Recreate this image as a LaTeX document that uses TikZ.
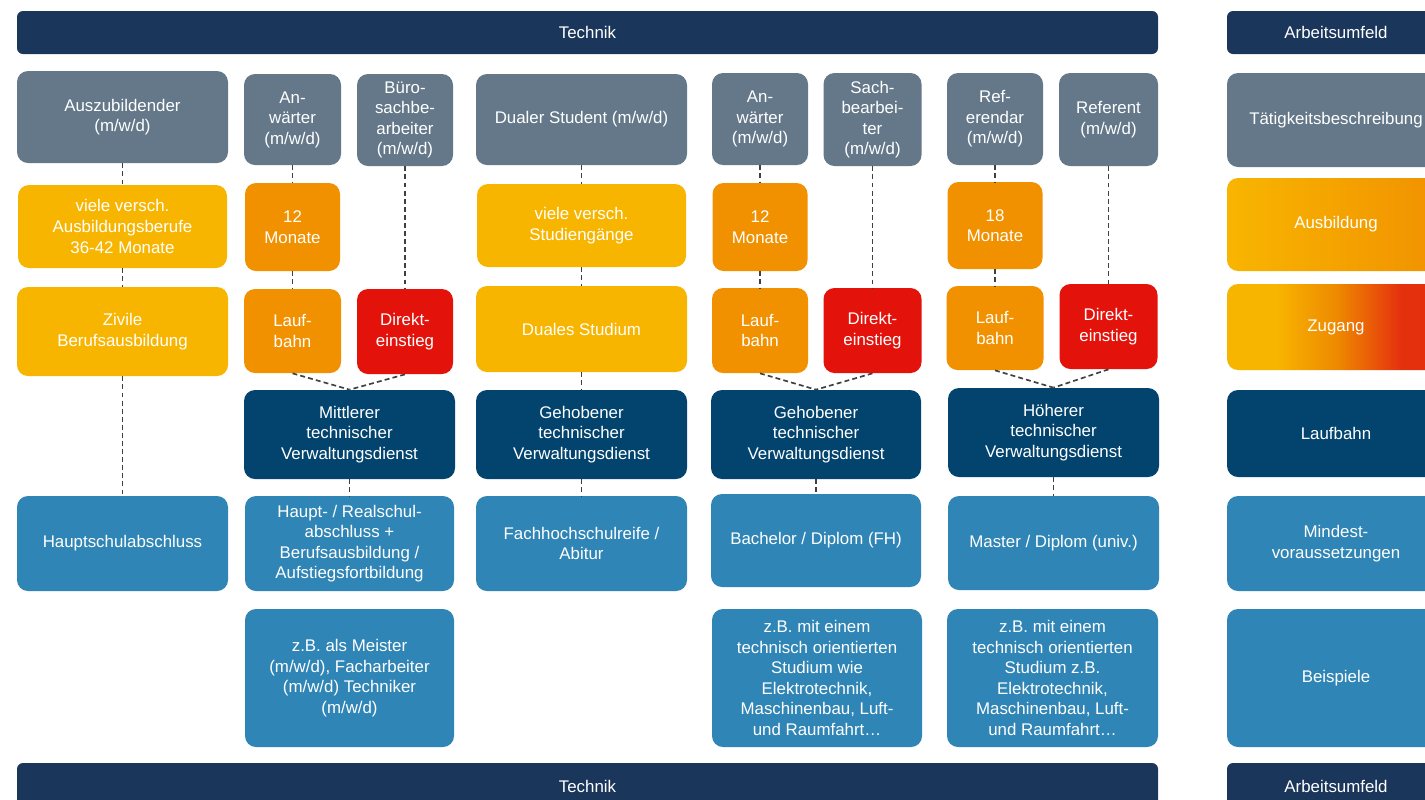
\documentclass[tikz,border=0pt]{standalone}
\usepackage{fontspec}
\setmainfont{Liberation Sans}
\usetikzlibrary{calc}

\definecolor{balken}{HTML}{1B365B}
\definecolor{grau}{HTML}{64788A}
\definecolor{gelb}{HTML}{F8B500}
\definecolor{orange}{HTML}{F19100}
\definecolor{rot}{HTML}{E3120B}
\definecolor{dunkelblau}{HTML}{03446F}
\definecolor{mittelblau}{HTML}{2F85B5}
\definecolor{zugrot}{HTML}{E5300E}
\definecolor{zugorange}{HTML}{EE8A00}

\pgfdeclarehorizontalshading{zugangshade}{100bp}{color(0bp)=(gelb); color(25bp)=(gelb); color(36bp)=(gelb); color(50bp)=(zugorange); color(57bp)=(zugorange!55!zugrot); color(65bp)=(zugrot); color(100bp)=(zugrot)}

\begin{document}
\begin{tikzpicture}[x=0.02cm, y=-0.02cm]
                    \tikzstyle{feld} = [inner sep=0pt, text=white, align=center, rounded corners=0.22cm, font=\fontsize{9.6}{11.7}\selectfont]
                    \tikzstyle{wh} = [minimum width=#1*0.02cm]
                    \tikzstyle{ht} = [minimum height=#1*0.02cm]
                    \tikzstyle{kopf} = [feld, fill=balken, rounded corners=0.12cm]
                    \tikzstyle{person} = [feld, fill=grau]
                    \tikzstyle{ausbildung} = [feld, fill=gelb]
                    \tikzstyle{vorber} = [feld, fill=orange]
                    \tikzstyle{direkt} = [feld, fill=rot]
                    \tikzstyle{dienst} = [feld, fill=dunkelblau]
                    \tikzstyle{vorauss} = [feld, fill=mittelblau]
                    \tikzstyle{verb} = [dash pattern=on 2.8pt off 1.8pt, line width=0.95pt, draw=black!75]

                    \path[use as bounding box, clip] (0, 0) rectangle (1425, 799);
                    \fill[white] (0, 0) rectangle (1425, 799);

                    % Kopf- und Fussbalken
                    \node[kopf, wh=1141, ht=43] (techoben) at (587.5, 32.5) {Technik};
                    \node[kopf, wh=218, ht=43] (arboben) at (1336, 32.5) {Arbeitsumfeld};
                    \node[kopf, wh=1141, ht=46] (techunten) at (587.5, 786) {Technik};
                    \node[kopf, wh=218, ht=46] (arbunten) at (1336, 786) {Arbeitsumfeld};

                    % Ausbildung
                    \node[person, wh=211, ht=92] (azubi) at (122.5, 117) {Auszubildender\\(m/w/d)};
                    \node[ausbildung, wh=209, ht=83] (berufe) at (122.5, 226.5) {viele versch.\\Ausbildungsberufe\\36-42 Monate};
                    \node[ausbildung, wh=211, ht=89] (zivil) at (122.5, 331.5) {Zivile\\Berufsausbildung};
                    \node[vorauss, wh=211, ht=95] (hauptschul) at (122.5, 543.5) {Hauptschulabschluss};
                    \draw[verb] (azubi) -- (berufe);
                    \draw[verb] (berufe) -- (zivil);
                    \draw[verb] (zivil) -- (hauptschul);

                    % Mittlerer Dienst
                    \node[person, wh=97, ht=91] (anwmittl) at (292.5, 119.5) {An-\\wärter\\(m/w/d)};
                    \node[person, wh=96, ht=92] (buero) at (405, 120) {Büro-\\sachbe-\\arbeiter\\(m/w/d)};
                    \node[vorber, wh=95, ht=88] (monmittl) at (292.5, 227) {12\\Monate};
                    \node[vorber, wh=97, ht=84] (laufmittl) at (292.5, 331) {Lauf-\\bahn};
                    \node[direkt, wh=96, ht=85] (direktmittl) at (405, 331.5) {Direkt-\\einstieg};
                    \node[dienst, wh=211, ht=89] (mittl) at (349.5, 434.5) {Mittlerer\\technischer\\Verwaltungsdienst};
                    \node[vorauss, wh=209, ht=95] (realschul) at (349.5, 543.5) {Haupt- / Realschul-\\abschluss +\\Berufsausbildung /\\Aufstiegsfortbildung};
                    \node[vorauss, wh=209, ht=138] (meister) at (349.5, 678) {z.B. als Meister\\(m/w/d), Facharbeiter\\(m/w/d) Techniker\\(m/w/d)};
                    \draw[verb] (anwmittl) -- (monmittl);
                    \draw[verb] (monmittl) -- (laufmittl);
                    \draw[verb] (buero) -- (direktmittl);
                    \draw[verb] (laufmittl.south) -- (mittl.north);
                    \draw[verb] (direktmittl.south) -- (mittl.north);
                    \draw[verb] (mittl) -- (realschul);

                    % Duales Studium
                    \node[person, wh=211, ht=91] (dual) at (581.5, 119.5) {Dualer Student (m/w/d)};
                    \node[ausbildung, wh=209, ht=83] (studg) at (581.5, 225.5) {viele versch.\\Studiengänge};
                    \node[ausbildung, wh=211, ht=86] (duales) at (581.5, 329) {Duales Studium};
                    \node[dienst, wh=211, ht=89] (gehdual) at (581.5, 434.5) {Gehobener\\technischer\\Verwaltungsdienst};
                    \node[vorauss, wh=211, ht=95] (fhr) at (581.5, 543.5) {Fachhochschulreife /\\Abitur};
                    \draw[verb] (dual) -- (studg);
                    \draw[verb] (studg) -- (duales);
                    \draw[verb] (duales) -- (gehdual);
                    \draw[verb] (gehdual) -- (fhr);

                    % Gehobener Dienst
                    \node[person, wh=96, ht=92] (anwgeh) at (760, 119) {An-\\wärter\\(m/w/d)};
                    \node[person, wh=98, ht=93] (sach) at (872.5, 119.5) {Sach-\\bearbei-\\ter\\(m/w/d)};
                    \node[vorber, wh=95, ht=88] (mongeh) at (760, 227) {12\\Monate};
                    \node[vorber, wh=96, ht=85] (laufgeh) at (760, 330.5) {Lauf-\\bahn};
                    \node[direkt, wh=98, ht=85] (direktgeh) at (872.5, 330.5) {Direkt-\\einstieg};
                    \node[dienst, wh=210, ht=89] (gehoben) at (816, 434.5) {Gehobener\\technischer\\Verwaltungsdienst};
                    \node[vorauss, wh=210, ht=93] (bachelor) at (816, 540.5) {Bachelor / Diplom (FH)};
                    \node[vorauss, wh=210, ht=138] (bspgeh) at (817, 678) {z.B. mit einem\\technisch orientierten\\Studium wie\\Elektrotechnik,\\Maschinenbau, Luft-\\und Raumfahrt…};
                    \draw[verb] (anwgeh) -- (mongeh);
                    \draw[verb] (mongeh) -- (laufgeh);
                    \draw[verb] (sach) -- (direktgeh);
                    \draw[verb] (laufgeh.south) -- (gehoben.north);
                    \draw[verb] (direktgeh.south) -- (gehoben.north);
                    \draw[verb] (gehoben) -- (bachelor);

                    % Hoeherer Dienst
                    \node[person, wh=96, ht=92] (refdar) at (995, 119) {Ref-\\erendar\\(m/w/d)};
                    \node[person, wh=99, ht=93] (referent) at (1108.5, 119.5) {Referent\\(m/w/d)};
                    \node[vorber, wh=95, ht=87] (monhoeh) at (995, 225.5) {18\\Monate};
                    \node[vorber, wh=97, ht=84] (laufhoeh) at (995, 328) {Lauf-\\bahn};
                    \node[direkt, wh=98, ht=85] (direkthoeh) at (1108.5, 326.5) {Direkt-\\einstieg};
                    \node[dienst, wh=211, ht=89] (hoeher) at (1053.5, 432.5) {Höherer\\technischer\\Verwaltungsdienst};
                    \node[vorauss, wh=211, ht=94] (master) at (1053.5, 543) {Master / Diplom (univ.)};
                    \node[vorauss, wh=211, ht=138] (bsphoeh) at (1052.5, 678) {z.B. mit einem\\technisch orientierten\\Studium z.B.\\Elektrotechnik,\\Maschinenbau, Luft-\\und Raumfahrt…};
                    \draw[verb] (refdar) -- (monhoeh);
                    \draw[verb] (monhoeh) -- (laufhoeh);
                    \draw[verb] (referent) -- (direkthoeh);
                    \draw[verb] (laufhoeh.south) -- (hoeher.north);
                    \draw[verb] (direkthoeh.south) -- (hoeher.north);
                    \draw[verb] (hoeher) -- (master);

                    % Legende
                    \node[person, wh=218, ht=94] (taetig) at (1336, 120) {Tätigkeitsbeschreibung};
                    \node[feld, left color=gelb, right color=orange, wh=218, ht=93] (ausbleg) at (1336, 224.5) {Ausbildung};
                    \node[feld, shading=zugangshade, wh=218, ht=86] (zugang) at (1336, 327) {Zugang};
                    \node[dienst, wh=218, ht=87] (laufleg) at (1336, 433.5) {Laufbahn};
                    \node[vorauss, wh=218, ht=95] (mindest) at (1336, 543.5) {Mindest-\\voraussetzungen};
                    \node[vorauss, wh=218, ht=138] (beispiele) at (1336, 678) {Beispiele};
                \end{tikzpicture}
\end{document}
